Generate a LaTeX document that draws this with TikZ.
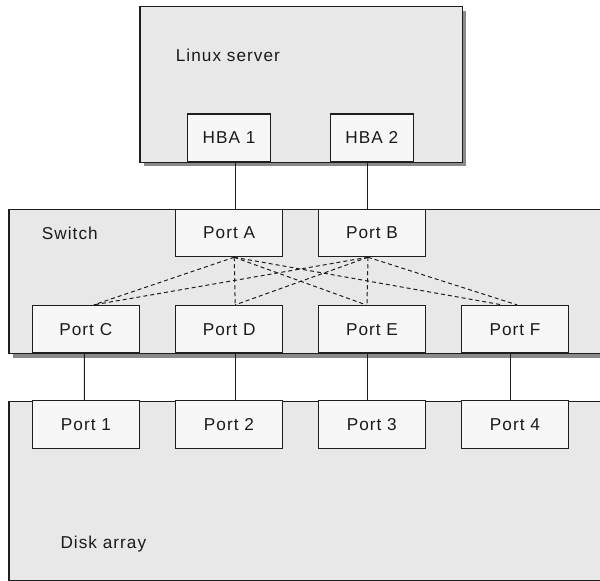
\documentclass[tikz,border=0pt]{standalone}
\usepackage{fontspec}
\setmainfont{Liberation Sans}[LetterSpace=6]
\usetikzlibrary{shadows}
\definecolor{boxgray}{HTML}{E8E8E8}
\definecolor{portfill}{HTML}{F7F7F7}
\definecolor{edge}{HTML}{1E1E1E}
\definecolor{shade}{HTML}{8A8A8A}
\definecolor{txt}{HTML}{1A1A1A}
\tikzset{
  big/.style={draw=edge, line width=1.3pt, fill=boxgray, anchor=north west, inner sep=0pt,
    drop shadow={shadow xshift=4pt, shadow yshift=-4pt, fill=shade, opacity=1}},
  portbox/.style={draw=edge, line width=1.2pt, fill=portfill, minimum width=107pt,
    minimum height=47.5pt, inner sep=0pt, font=\fontsize{17.2}{19}\selectfont, text=txt},
  hbabox/.style={portbox, minimum width=83.4pt, minimum height=47.7pt},
  lbl/.style={anchor=west, inner sep=0pt, font=\fontsize{17.2}{19}\selectfont, text=txt},
  link/.style={draw=edge, line width=1pt},
  cross/.style={link, dash pattern=on 4pt off 3pt}
}
\begin{document}
\begin{tikzpicture}[x=1pt,y=-1pt]
\useasboundingbox (0,0) rectangle (600,581);
\clip (0,0) rectangle (600,581);
% large boxes
\node[big, minimum width=322.4pt, minimum height=155.7pt] (server) at (139.3,6) {};
\node[big, minimum width=600pt, minimum height=144pt] (switch) at (8.3,209) {};
\node[big, minimum width=600pt, minimum height=179pt] (disk) at (8.3,400.5) {};
% labels
\node[lbl] (lserver) at (175.7,55) {Linux server};
\node[lbl] (lswitch) at (41.7,233) {Switch};
\node[lbl] (ldisk) at (60.3,544) {Disk array};
% HBAs
\node[hbabox] (hba1) at (229,137.9) {HBA 1};
\node[hbabox] (hba2) at (371.8,137.9) {HBA 2};
% switch ports
\node[portbox] (pa) at (229.2,232.9) {Port A};
\node[portbox] (pb) at (372,232.9) {Port B};
\node[portbox] (pc) at (85.8,329.2) {Port C};
\node[portbox] (pd) at (229.2,329.2) {Port D};
\node[portbox] (pe) at (372,329.2) {Port E};
\node[portbox] (pf) at (515,329.2) {Port F};
% disk ports
\node[portbox] (p1) at (86,424.5) {Port 1};
\node[portbox] (p2) at (229,424.5) {Port 2};
\node[portbox] (p3) at (371.8,424.5) {Port 3};
\node[portbox] (p4) at (515,424.5) {Port 4};
% solid links
\draw[link] ([xshift=6.3pt]hba1.south) -- ([xshift=6.1pt]pa.north);
\draw[link] ([xshift=-4.1pt]hba2.south) -- ([xshift=-4.3pt]pb.north);
\draw[link] ([xshift=-1.4pt]pc.south) -- ([xshift=-1.6pt]p1.north);
\draw[link] ([xshift=6.1pt]pd.south) -- ([xshift=6.3pt]p2.north);
\draw[link] ([xshift=-4.5pt]pe.south) -- ([xshift=-4.3pt]p3.north);
\draw[link] ([xshift=-4.7pt]pf.south) -- ([xshift=-4.7pt]p4.north);
% dashed cross links
\draw[cross] ([xshift=5pt]pa.south) -- ([xshift=8pt]pc.north);
\draw[cross] ([xshift=5pt]pa.south) -- ([xshift=6pt]pd.north);
\draw[cross] ([xshift=5pt]pa.south) -- ([xshift=-6pt]pe.north);
\draw[cross] ([xshift=5pt]pa.south) -- ([xshift=-13pt]pf.north);
\draw[cross] ([xshift=-4pt]pb.south) -- ([xshift=8pt]pc.north);
\draw[cross] ([xshift=-4pt]pb.south) -- ([xshift=6pt]pd.north);
\draw[cross] ([xshift=-4pt]pb.south) -- ([xshift=-5pt]pe.north);
\draw[cross] ([xshift=-4pt]pb.south) -- ([xshift=2pt]pf.north);
\end{tikzpicture}
\end{document}
